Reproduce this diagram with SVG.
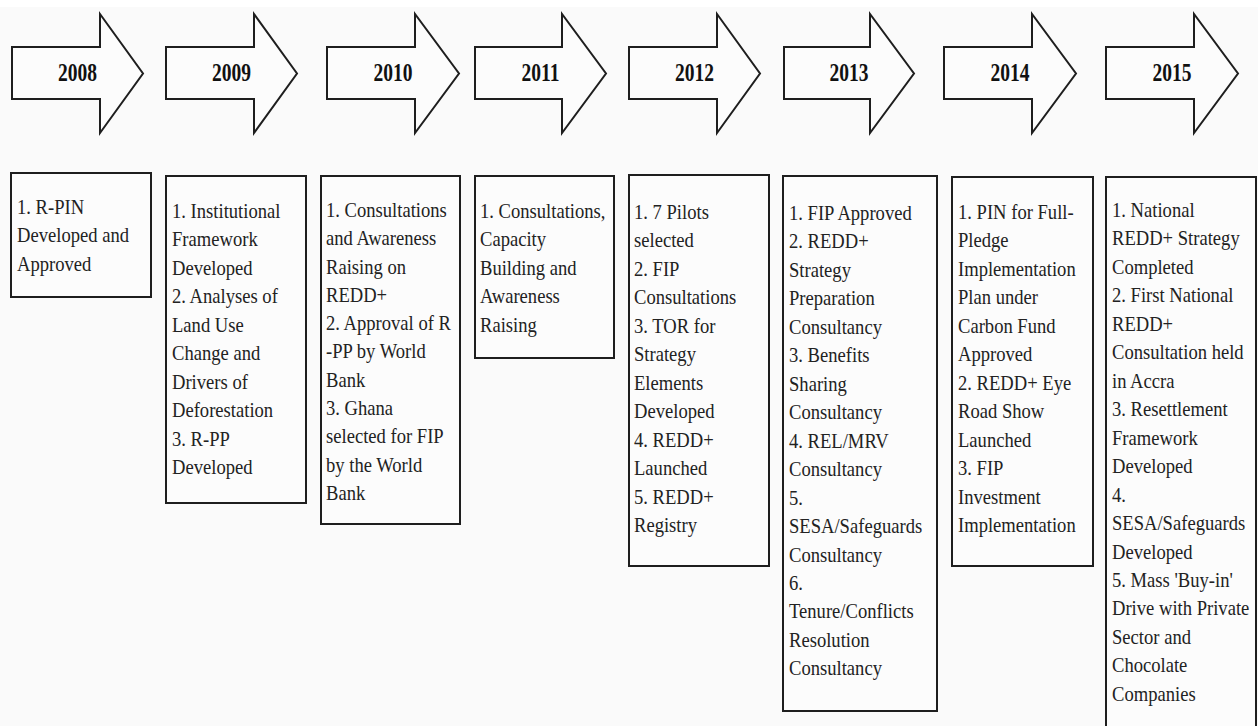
<svg xmlns="http://www.w3.org/2000/svg" width="1258" height="726" viewBox="0 0 1258 726">
<style>
.arrow{fill:#fcfcfc;stroke:#1e1e1e;stroke-width:2;stroke-linejoin:miter}
.box{fill:#fcfcfc;stroke:#1e1e1e;stroke-width:2}
.yr{font-family:"Liberation Serif","Times New Roman",serif;font-weight:bold;font-size:25px;fill:#111;text-anchor:middle}
.txt{font-family:"Liberation Serif","Times New Roman",serif;font-size:18.6px;fill:#222}
</style>
<rect x="0" y="0" width="1258" height="726" fill="#fafafa"/>
<rect x="0" y="0" width="1258" height="7" fill="#ffffff"/>

<g id="year-2008"><polygon class="arrow" points="12,47 100,47 100,14 143,73.5 100,133 100,99 12,99"/><text class="yr" x="77.5" y="81" textLength="39" lengthAdjust="spacingAndGlyphs">2008</text></g>
<g id="year-2009"><polygon class="arrow" points="166,47 254,47 254,14 297,73.5 254,133 254,99 166,99"/><text class="yr" x="231.5" y="81" textLength="39" lengthAdjust="spacingAndGlyphs">2009</text></g>
<g id="year-2010"><polygon class="arrow" points="327,47 415,47 415,14 459,73.5 415,133 415,99 327,99"/><text class="yr" x="393" y="81" textLength="39" lengthAdjust="spacingAndGlyphs">2010</text></g>
<g id="year-2011"><polygon class="arrow" points="475,47 562,47 562,14 606,73.5 562,133 562,99 475,99"/><text class="yr" x="540.5" y="81" textLength="38" lengthAdjust="spacingAndGlyphs">2011</text></g>
<g id="year-2012"><polygon class="arrow" points="629,47 717,47 717,14 760,73.5 717,133 717,99 629,99"/><text class="yr" x="694.5" y="81" textLength="39" lengthAdjust="spacingAndGlyphs">2012</text></g>
<g id="year-2013"><polygon class="arrow" points="784,47 870,47 870,14 914,73.5 870,133 870,99 784,99"/><text class="yr" x="849" y="81" textLength="39" lengthAdjust="spacingAndGlyphs">2013</text></g>
<g id="year-2014"><polygon class="arrow" points="944,47 1032,47 1032,14 1076,73.5 1032,133 1032,99 944,99"/><text class="yr" x="1010" y="81" textLength="39" lengthAdjust="spacingAndGlyphs">2014</text></g>
<g id="year-2015"><polygon class="arrow" points="1106,47 1194,47 1194,14 1238,73.5 1194,133 1194,99 1106,99"/><text class="yr" x="1172" y="81" textLength="39" lengthAdjust="spacingAndGlyphs">2015</text></g>

<g id="connectors"></g>

<g id="box-2008"><rect class="box" x="11" y="173" width="140" height="124"/>
<text class="txt" transform="translate(17,214) scale(1,1.15)"><tspan x="0" y="0">1. R-PIN</tspan><tspan x="0" dy="24.6">Developed and</tspan><tspan x="0" dy="24.6">Approved</tspan></text></g>

<g id="box-2009"><rect class="box" x="166" y="176" width="140" height="327"/>
<text class="txt" transform="translate(172,218) scale(1,1.15)"><tspan x="0" y="0">1. Institutional</tspan><tspan x="0" dy="24.75">Framework</tspan><tspan x="0" dy="24.75">Developed</tspan><tspan x="0" dy="24.75">2. Analyses of</tspan><tspan x="0" dy="24.75">Land Use</tspan><tspan x="0" dy="24.75">Change and</tspan><tspan x="0" dy="24.75">Drivers of</tspan><tspan x="0" dy="24.75">Deforestation</tspan><tspan x="0" dy="24.75">3. R-PP</tspan><tspan x="0" dy="24.75">Developed</tspan></text></g>

<g id="box-2010"><rect class="box" x="321" y="176" width="139" height="348"/>
<text class="txt" transform="translate(326,217) scale(1,1.15)"><tspan x="0" y="0">1. Consultations</tspan><tspan x="0" dy="24.6">and Awareness</tspan><tspan x="0" dy="24.6">Raising on</tspan><tspan x="0" dy="24.6">REDD+</tspan><tspan x="0" dy="24.6">2. Approval of R</tspan><tspan x="0" dy="24.6">-PP by World</tspan><tspan x="0" dy="24.6">Bank</tspan><tspan x="0" dy="24.6">3. Ghana</tspan><tspan x="0" dy="24.6">selected for FIP</tspan><tspan x="0" dy="24.6">by the World</tspan><tspan x="0" dy="24.6">Bank</tspan></text></g>

<g id="box-2011"><rect class="box" x="475" y="176" width="139" height="182"/>
<text class="txt" transform="translate(480,218) scale(1,1.15)"><tspan x="0" y="0">1. Consultations,</tspan><tspan x="0" dy="24.75">Capacity</tspan><tspan x="0" dy="24.75">Building and</tspan><tspan x="0" dy="24.75">Awareness</tspan><tspan x="0" dy="24.75">Raising</tspan></text></g>

<g id="box-2012"><rect class="box" x="629" y="175" width="140" height="391"/>
<text class="txt" transform="translate(634,219) scale(1,1.15)"><tspan x="0" y="0">1. 7 Pilots</tspan><tspan x="0" dy="24.75">selected</tspan><tspan x="0" dy="24.75">2. FIP</tspan><tspan x="0" dy="24.75">Consultations</tspan><tspan x="0" dy="24.75">3. TOR for</tspan><tspan x="0" dy="24.75">Strategy</tspan><tspan x="0" dy="24.75">Elements</tspan><tspan x="0" dy="24.75">Developed</tspan><tspan x="0" dy="24.75">4. REDD+</tspan><tspan x="0" dy="24.75">Launched</tspan><tspan x="0" dy="24.75">5. REDD+</tspan><tspan x="0" dy="24.75">Registry</tspan></text></g>

<g id="box-2013"><rect class="box" x="783" y="176" width="154" height="535"/>
<text class="txt" transform="translate(789,220) scale(1,1.15)"><tspan x="0" y="0">1. FIP Approved</tspan><tspan x="0" dy="24.75">2. REDD+</tspan><tspan x="0" dy="24.75">Strategy</tspan><tspan x="0" dy="24.75">Preparation</tspan><tspan x="0" dy="24.75">Consultancy</tspan><tspan x="0" dy="24.75">3. Benefits</tspan><tspan x="0" dy="24.75">Sharing</tspan><tspan x="0" dy="24.75">Consultancy</tspan><tspan x="0" dy="24.75">4. REL/MRV</tspan><tspan x="0" dy="24.75">Consultancy</tspan><tspan x="0" dy="24.75">5.</tspan><tspan x="0" dy="24.75">SESA/Safeguards</tspan><tspan x="0" dy="24.75">Consultancy</tspan><tspan x="0" dy="24.75">6.</tspan><tspan x="0" dy="24.75">Tenure/Conflicts</tspan><tspan x="0" dy="24.75">Resolution</tspan><tspan x="0" dy="24.75">Consultancy</tspan></text></g>

<g id="box-2014"><rect class="box" x="952" y="177" width="141" height="389"/>
<text class="txt" transform="translate(958,219) scale(1,1.15)"><tspan x="0" y="0">1. PIN for Full-</tspan><tspan x="0" dy="24.75">Pledge</tspan><tspan x="0" dy="24.75">Implementation</tspan><tspan x="0" dy="24.75">Plan under</tspan><tspan x="0" dy="24.75">Carbon Fund</tspan><tspan x="0" dy="24.75">Approved</tspan><tspan x="0" dy="24.75">2. REDD+ Eye</tspan><tspan x="0" dy="24.75">Road Show</tspan><tspan x="0" dy="24.75">Launched</tspan><tspan x="0" dy="24.75">3. FIP</tspan><tspan x="0" dy="24.75">Investment</tspan><tspan x="0" dy="24.75">Implementation</tspan></text></g>

<g id="box-2015"><rect class="box" x="1106" y="177" width="150" height="570"/>
<text class="txt" transform="translate(1112,217) scale(1,1.15)"><tspan x="0" y="0">1. National</tspan><tspan x="0" dy="24.75">REDD+ Strategy</tspan><tspan x="0" dy="24.75">Completed</tspan><tspan x="0" dy="24.75">2. First National</tspan><tspan x="0" dy="24.75">REDD+</tspan><tspan x="0" dy="24.75">Consultation held</tspan><tspan x="0" dy="24.75">in Accra</tspan><tspan x="0" dy="24.75">3. Resettlement</tspan><tspan x="0" dy="24.75">Framework</tspan><tspan x="0" dy="24.75">Developed</tspan><tspan x="0" dy="24.75">4.</tspan><tspan x="0" dy="24.75">SESA/Safeguards</tspan><tspan x="0" dy="24.75">Developed</tspan><tspan x="0" dy="24.75">5. Mass 'Buy-in'</tspan><tspan x="0" dy="24.75">Drive with Private</tspan><tspan x="0" dy="24.75">Sector and</tspan><tspan x="0" dy="24.75">Chocolate</tspan><tspan x="0" dy="24.75">Companies</tspan></text></g>
</svg>
